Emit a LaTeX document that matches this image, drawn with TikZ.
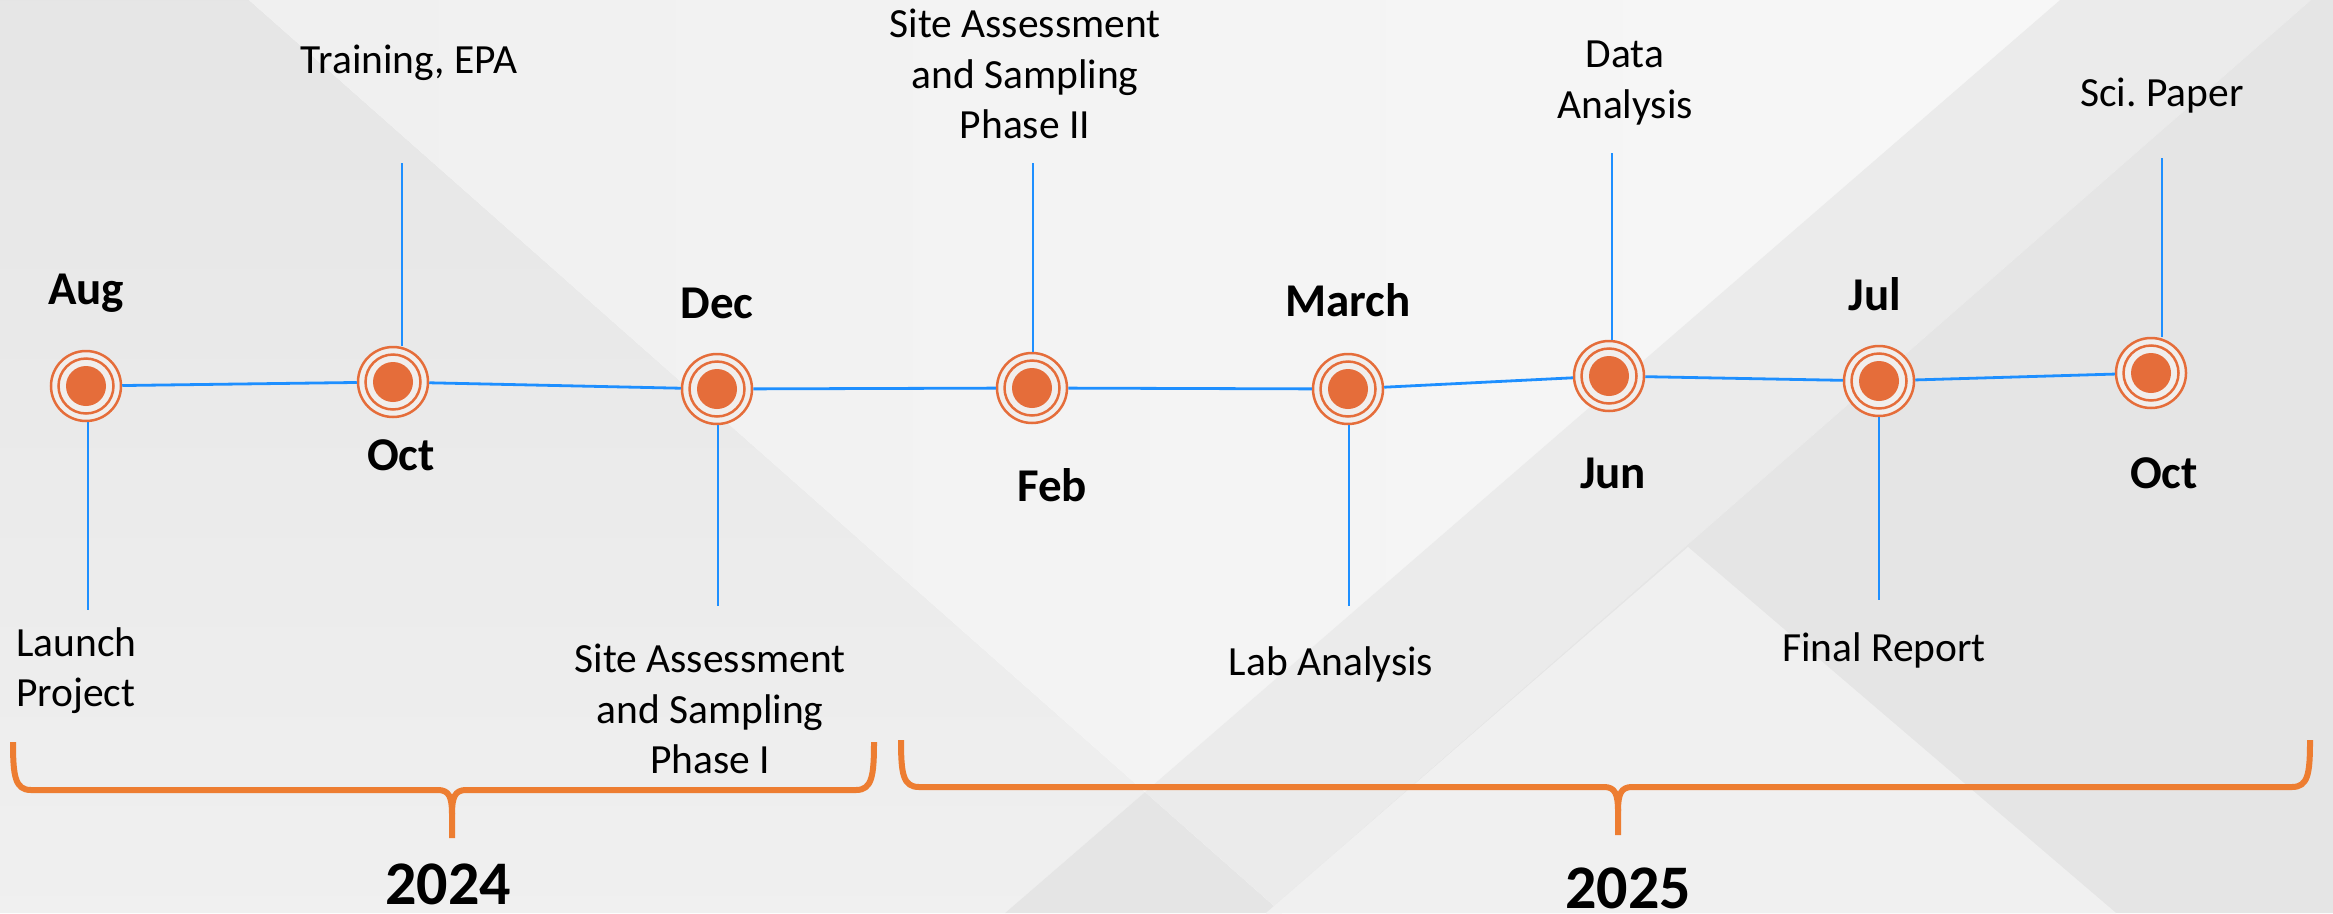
\documentclass[tikz,border=0pt]{standalone}
\usepackage{fontspec}
\setmainfont{Carlito}
\definecolor{tlorange}{HTML}{E56D3A}
\definecolor{braceorange}{HTML}{ED7D31}
\definecolor{tlblue}{HTML}{1E8FFF}
\definecolor{ringfill}{HTML}{F1EEEC}

\begin{document}
\begin{tikzpicture}[x=1pt, y=-1pt,
		main/.style = {circle, draw=tlorange, line width=2.5pt, fill=ringfill, minimum size=70pt, inner sep=0pt,
			path picture={\draw[tlorange, line width=2.5pt] (path picture bounding box.center) circle (27.5pt);
				\fill[tlorange] (path picture bounding box.center) circle (20pt);}},
		month/.style = {font=\fontsize{47}{56}\selectfont\bfseries, anchor=base, inner sep=0pt},
		task/.style = {font=\fontsize{41.5}{50.5}\selectfont, anchor=base, inner sep=0pt, align=center},
		year/.style = {font=\fontsize{62}{74}\selectfont\bfseries, anchor=base, inner sep=0pt},
		line/.style = {draw=tlblue, line width=2.8pt},
		stem/.style = {draw=tlblue, line width=2pt},
		brace/.style = {draw=braceorange, line width=6pt, line join=round, line cap=butt}]
			\useasboundingbox (0,0) rectangle (2333,913);
			\shade[top color=black!10, bottom color=black!6] (0,0) -- (249,0) -- (1145,792) -- (1005,913) -- (0,913) -- cycle;
			\shade[left color=black!6, right color=black!3] (249,0) -- (2060,0) -- (1145,792) -- cycle;
			\fill[black!10] (1145,792) -- (1005,913) -- (1282,913) -- cycle;
			\fill[black!8] (2060,0) -- (2311,0) -- (1266,913) -- (1282,913) -- (1145,792) -- cycle;
			\fill[black!10] (2311,0) -- (2333,0) -- (2333,913) -- (1266,913) -- cycle;
			\fill[black!6] (1688,547) -- (2116,913) -- (1266,913) -- cycle;
			\node[main] (1) at (86,386) {};
			\node[main] (2) at (393,382) {};
			\node[main] (3) at (717,389) {};
			\node[main] (4) at (1032,388) {};
			\node[main] (5) at (1348,389) {};
			\node[main] (6) at (1609,376) {};
			\node[main] (7) at (1879,381) {};
			\node[main] (8) at (2151,373) {};
			\draw[line] (1) -- (2);
			\draw[line] (2) -- (3);
			\draw[line] (3) -- (4);
			\draw[line] (4) -- (5);
			\draw[line] (5) -- (6);
			\draw[line] (6) -- (7);
			\draw[line] (7) -- (8);
			\node[month] (m1) at (86,304) {Aug};
			\node[month] (m2) at (401,470) {Oct};
			\node[month] (m3) at (717,318) {Dec};
			\node[month] (m4) at (1052,501) {Feb};
			\node[month] (m5) at (1348,316) {March};
			\node[month] (m6) at (1613,488) {Jun};
			\node[month] (m7) at (1875,310) {Jul};
			\node[month] (m8) at (2164,488) {Oct};
			\node[task, align=left, anchor=base west] (t1) at (16,706.5) {Launch\\Project};
			\node[task] (t2) at (409,73.5) {Training, EPA};
			\node[task] (t3) at (710,773.5) {Site Assessment\\and Sampling\\Phase I};
			\node[task] (t4) at (1025,138.5) {Site Assessment\\and Sampling\\Phase II};
			\node[task] (t5) at (1331,675) {Lab Analysis};
			\node[task] (t6) at (1625,118) {Data\\Analysis};
			\node[task] (t7) at (1884,661.5) {Final Report};
			\node[task] (t8) at (2162,106.5) {Sci.\ Paper};
			\coordinate (s1) at (88,610);
			\coordinate (s2) at (402,163);
			\coordinate (s3) at (718,606);
			\coordinate (s4) at (1033,163);
			\coordinate (s5) at (1349,606);
			\coordinate (s6) at (1612,153);
			\coordinate (s7) at (1879,600);
			\coordinate (s8) at (2162,158);
			\draw[stem] (1.south -| s1) -- (s1);
			\draw[stem] (2.north -| s2) -- (s2);
			\draw[stem] (3.south -| s3) -- (s3);
			\draw[stem] (4.north -| s4) -- (s4);
			\draw[stem] (5.south -| s5) -- (s5);
			\draw[stem] (6.north -| s6) -- (s6);
			\draw[stem] (7.south -| s7) -- (s7);
			\draw[stem] (8.north -| s8) -- (s8);
			\draw[brace] (13,742) .. controls (13,776) and (15,790) .. (31,790) -- (438,790) .. controls (449,790) and (452,797) .. (452,814) -- (452,838);
			\draw[brace] (452,814) .. controls (452,797) and (455,790) .. (466,790) -- (856,790) .. controls (872,790) and (874,776) .. (874,742);
			\draw[brace] (901,740) .. controls (901,774) and (903,787) .. (919,787) -- (1604,787) .. controls (1615,787) and (1618,794) .. (1618,811) -- (1618,835);
			\draw[brace] (1618,811) .. controls (1618,794) and (1621,787) .. (1632,787) -- (2292,787) .. controls (2308,787) and (2310,774) .. (2310,740);
			\node[year] (y1) at (448,904) {2024};
			\node[year] (y2) at (1628,908) {2025};
		\end{tikzpicture}
\end{document}
